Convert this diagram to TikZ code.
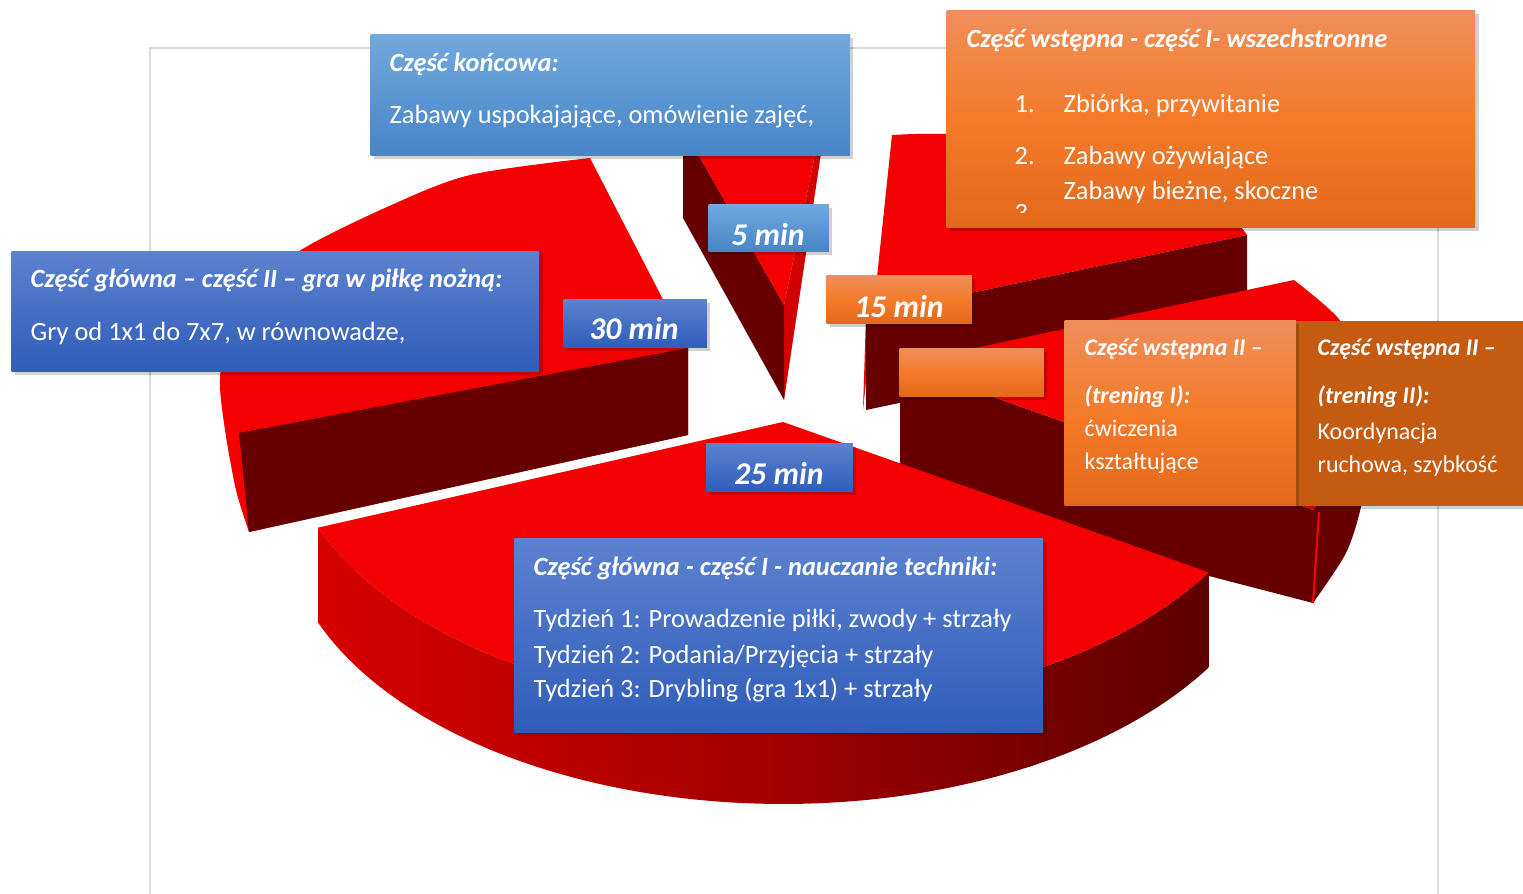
\documentclass[tikz,border=0pt]{standalone}
\usepackage{fontspec}
\setmainfont{Carlito}
\usetikzlibrary{shadows}
\definecolor{topred}{HTML}{F40000}
\definecolor{cutdark}{HTML}{660000}
\definecolor{sidered}{HTML}{D20000}
\definecolor{frameg}{HTML}{D9D9D9}
\definecolor{lbT}{HTML}{72A8DD}
\definecolor{lbB}{HTML}{4785C8}
\definecolor{dbT}{HTML}{5C81CF}
\definecolor{dbB}{HTML}{2F5DB9}
\definecolor{orT}{HTML}{F08E5A}
\definecolor{orM}{HTML}{F37B2A}
\definecolor{orB}{HTML}{E2691A}
\definecolor{orD}{HTML}{C55A11}
\definecolor{sideL}{HTML}{D60000}
\definecolor{sideM}{HTML}{A40000}
\definecolor{sideR}{HTML}{5C0000}
\tikzset{
  box/.style={draw=none, inner sep=0pt, anchor=north west,
    drop shadow={opacity=0.18, fill=black, shadow xshift=0.035cm, shadow yshift=-0.035cm}},
  lightblue/.style={box, top color=lbT, bottom color=lbB},
  darkblue/.style={box, top color=dbT, bottom color=dbB},
  orangebox/.style={box, top color=orT, bottom color=orB, middle color=orM},
  darkorange/.style={box, fill=orD},
  head/.style={anchor=base west, text=white, inner sep=0pt,
    font=\fontsize{7.5pt}{9pt}\selectfont\bfseries\itshape},
  body/.style={anchor=base west, text=white, inner sep=0pt,
    font=\fontsize{7.5pt}{9pt}\selectfont},
  shead/.style={anchor=base west, text=white, inner sep=0pt,
    font=\fontsize{6.8pt}{8pt}\selectfont\bfseries\itshape},
  sbody/.style={anchor=base west, text=white, inner sep=0pt,
    font=\fontsize{6.8pt}{8pt}\selectfont},
  minlabel/.style={anchor=base, text=white, inner sep=0pt,
    font=\fontsize{9pt}{11pt}\selectfont\bfseries\itshape},
}
\begin{document}
\begin{tikzpicture}[x=0.01cm, y=-0.01cm]
\path[use as bounding box, fill=white] (0,0) rectangle (1523,894);
% chart frame
\draw[frameg, line width=0.015cm] (150,894) -- (150,48) -- (1438,48) -- (1438,894);

% slice 15 min
\fill[topred] (892,135) .. controls (1010,128) and (1190,150) .. (1247,235) -- (866,315) -- (863,410) -- cycle;
\fill[cutdark] (866,315) -- (1247,235) -- (1247,330) -- (866,410) -- cycle;

% slice 5 min
\fill[cutdark] (683,140) -- (690,140) -- (784,305) -- (784,400) -- (683,218) -- cycle;
\fill[topred] (690,140) -- (818,140) -- (784,305) -- cycle;
\fill[sidered] (818,140) -- (823,140) -- (784,400) -- (784,305) -- cycle;

% slice 30 min
\fill[topred] (590,158) -- (688,348) -- (688,435) -- (249,532)
  -- plot[smooth] coordinates {(249,532) (236,490) (225,430) (220,380) (228,330) (255,290) (301,250) (387,207) (470,175) (590,158)} -- cycle;
\fill[cutdark] (239,433) -- (688,348) -- (688,435) -- (249,532) -- cycle;

% slice without label (right)
\fill[cutdark] plot[smooth] coordinates {(1366,395) (1361,430) (1346,465) (1313,510)}
  -- (1313,603) -- plot[smooth] coordinates {(1313,603) (1346,553) (1361,507) (1366,470)} -- cycle;
\fill[cutdark] (900,364) -- (1313,510) -- (1313,603) -- (1209,576) -- (900,472) -- cycle;
\fill[topred] (900,364) -- (1294,280)
  -- plot[smooth] coordinates {(1294,280) (1338,318) (1360,360) (1366,395) (1361,430) (1346,465) (1313,510)} -- cycle;
\draw[red, line width=0.02cm] (1319,512) -- (1313,603);

% slice 25 min (front)
\shade[left color=sideL, right color=sideR, middle color=sideM]
  plot[domain=31.6:158.4, samples=80] ({783+500*cos(\x)},{422+287*sin(\x)})
  -- plot[domain=158.4:31.6, samples=80] ({783+500*cos(\x)},{517+287*sin(\x)}) -- cycle;
\fill[topred] (783,422) -- plot[domain=31.6:158.4, samples=80] ({783+500*cos(\x)},{422+287*sin(\x)}) -- cycle;

% boxes
\node[lightblue, minimum width=4.79cm, minimum height=1.21cm] (koncowa) at (370,34) {};
\node[head] (koncowaH) at (389,72) {Część końcowa:};
\node[body] (koncowaB) at (389,124) {Zabawy uspokajające, omówienie zajęć,};

\node[lightblue, minimum width=1.20cm, minimum height=0.47cm] (m5) at (708,204) {};
\node[minlabel] (m5t) at (768,246) {5 min};

\node[darkblue, minimum width=5.27cm, minimum height=1.20cm] (glowna2) at (11,251) {};
\node[head] (glowna2H) at (30,288) {Część główna – część II – gra w piłkę nożną:};
\node[body] (glowna2B) at (30,341) {Gry od 1x1 do 7x7, w równowadze,};

\node[darkblue, minimum width=1.43cm, minimum height=0.48cm] (m30) at (563,299) {};
\node[minlabel] (m30t) at (634,340) {30 min};

\node[orangebox, minimum width=1.45cm, minimum height=0.48cm] (m15) at (826,275) {};
\node[minlabel] (m15t) at (899,318) {15 min};

\node[orangebox, minimum width=1.44cm, minimum height=0.48cm] (mblank) at (899,348) {};

\node[darkblue, minimum width=1.46cm, minimum height=0.48cm] (m25) at (706,443) {};
\node[minlabel] (m25t) at (779,485) {25 min};

\node[darkblue, minimum width=5.28cm, minimum height=1.94cm] (glowna1) at (514,538) {};
\node[head] (glowna1H) at (533,576) {Część główna - część I - nauczanie techniki:};
\node[body] (glowna1a) at (533,628) {Tydzień 1: Prowadzenie piłki, zwody + strzały};
\node[body] (glowna1b) at (533,663) {Tydzień 2: Podania/Przyjęcia + strzały};
\node[body] (glowna1c) at (533,698) {Tydzień 3: Drybling (gra 1x1) + strzały};

\node[orangebox, minimum width=5.28cm, minimum height=2.17cm] (wstepna1) at (946,10) {};
\node[head] (wstepna1H) at (966,48) {Część wstępna - część I- wszechstronne};
\node[body] (w1n1) at (1014,113) {1.};
\node[body] (w1t1) at (1063,113) {Zbiórka, przywitanie};
\node[body] (w1n2) at (1014,165) {2.};
\node[body] (w1t2) at (1063,165) {Zabawy ożywiające};
\node[body] (w1t3) at (1063,200) {Zabawy bieżne, skoczne};
\begin{scope}
\clip (946,10) rectangle (1474,213);
\node[body] (w1n3) at (1014,222) {3.};
\end{scope}

\node[darkorange, minimum width=2.28cm, minimum height=1.85cm] (trening2) at (1295,320) {};
\node[shead] (trening2H) at (1317,356) {Część wstępna II –};
\node[shead] (trening2H2) at (1317,403) {(trening II):};
\node[sbody] (trening2a) at (1317,440) {Koordynacja};
\node[sbody] (trening2b) at (1317,473) {ruchowa, szybkość};

\node[orangebox, minimum width=2.31cm, minimum height=1.85cm] (trening1) at (1064,320) {};
\node[shead] (trening1H) at (1084,356) {Część wstępna II –};
\node[shead] (trening1H2) at (1084,403) {(trening I):};
\node[sbody] (trening1a) at (1084,437) {ćwiczenia};
\node[sbody] (trening1b) at (1084,469) {kształtujące};
\end{tikzpicture}
\end{document}
